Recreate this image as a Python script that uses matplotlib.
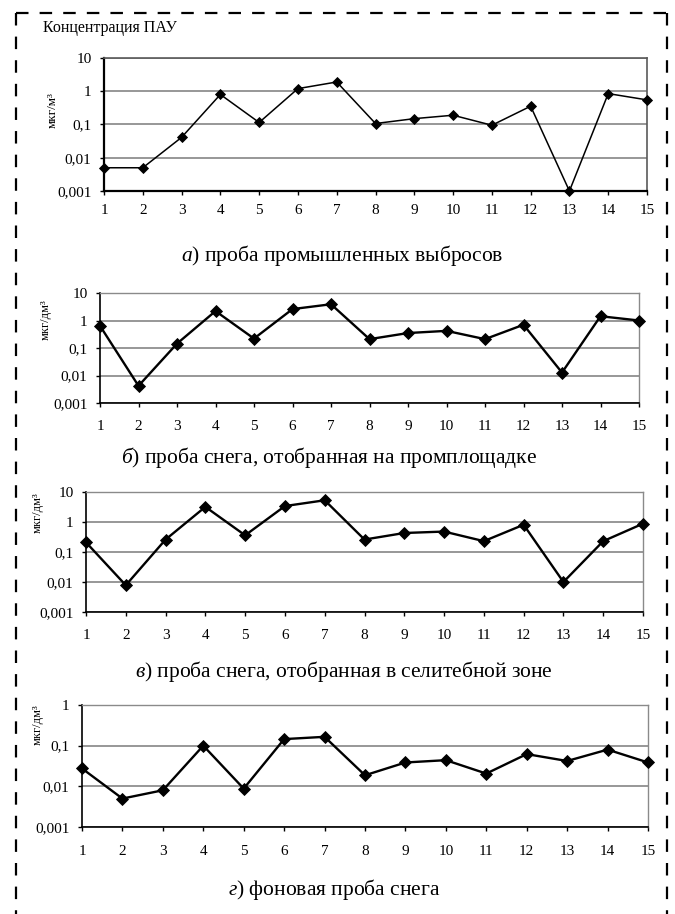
import matplotlib
matplotlib.use('Agg')
import matplotlib.pyplot as plt
from matplotlib.lines import Line2D
from matplotlib.ticker import FixedLocator, FixedFormatter, NullLocator

plt.rcParams['font.family'] = ['Liberation Serif', 'DejaVu Serif']
plt.rcParams['mathtext.fontset'] = 'custom'
plt.rcParams['mathtext.rm'] = 'Liberation Serif'
plt.rcParams['mathtext.it'] = 'Liberation Serif:italic'
plt.rcParams['lines.scale_dashes'] = False

# ---- data ----
samples = list(range(1, 16))
industrial = [0.005, 0.005, 0.041, 0.8, 0.115, 1.2, 1.9, 0.107, 0.15, 0.19,
              0.095, 0.355, 0.001, 0.85, 0.55]
snow_site = [0.64, 0.0042, 0.144, 2.2, 0.22, 2.6, 3.9, 0.21, 0.35, 0.42,
             0.21, 0.7, 0.0128, 1.43, 1.0]
snow_residential = [0.21, 0.0078, 0.26, 3.2, 0.36, 3.4, 5.3, 0.26, 0.43, 0.48,
                    0.23, 0.81, 0.01, 0.23, 0.88]
snow_background = [0.0275, 0.005, 0.008, 0.1, 0.0088, 0.145, 0.165, 0.0187,
                   0.0386, 0.044, 0.0206, 0.062, 0.042, 0.08, 0.0386]

ytick_vals = [0.001, 0.01, 0.1, 1, 10]
ytick_labels = ['0,001', '0,01', '0,1', '1', '10']

title = 'Концентрация ПАУ'
units = ['мкг/м³', 'мкг/дм³', 'мкг/дм³', 'мкг/дм³']
caption_letters = ['а', 'б', 'в', 'г']
caption_texts = ['проба промышленных выбросов',
                 'проба снега, отобранная на промплощадке',
                 'проба снега, отобранная в селитебной зоне',
                 'фоновая проба снега']

W, H = 675, 914
fig = plt.figure(figsize=(W / 100, H / 100), dpi=100)


def fx(x):
    return x / W


def fy(y):
    return 1 - y / H


# axes boxes in pixels: left, right, top, bottom
boxes = [(104, 647, 58, 191), (100, 639, 293, 403), (86, 643, 492, 612), (82, 648, 705, 827)]
series = [industrial, snow_site, snow_residential, snow_background]
ymaxs = [10, 10, 10, 1]
marker_sizes = [4.8, 6.6, 6.6, 6.6]
line_widths = [1.1, 1.7, 1.7, 1.7]
xlabel_pads = [6, 9, 9, 10]
ylabel_pos = [(53, 110), (46, 320), (38, 513), (38, 725)]
ylabel_sizes = [9.5, 9, 9, 9]
caption_pos = [(342, 255), (329, 457), (344, 672), (334, 889)]

for i, (l, r, t, b) in enumerate(boxes):
    ax = fig.add_axes([fx(l), fy(b), (r - l) / W, (b - t) / H])
    ax.set_yscale('log')
    ax.set_ylim(0.001, ymaxs[i])
    ax.set_xlim(1, 15)
    ax.plot(samples, series[i], color='black', lw=line_widths[i], marker='D',
            ms=marker_sizes[i], mfc='black', mec='black', mew=0.6, clip_on=False, zorder=5)
    vals = [v for v in ytick_vals if v <= ymaxs[i]]
    labs = [lab for v, lab in zip(ytick_vals, ytick_labels) if v <= ymaxs[i]]
    ax.yaxis.set_major_locator(FixedLocator(vals))
    ax.yaxis.set_major_formatter(FixedFormatter(labs))
    ax.yaxis.set_minor_locator(NullLocator())
    ax.set_xticks(samples)
    ax.set_xticklabels([str(s) for s in samples])
    ax.yaxis.grid(True, color='#7a7a7a', lw=1.1)
    ax.set_axisbelow(True)
    for side in ['top', 'right']:
        ax.spines[side].set_color('#5a5a5a' if i == 0 else '#8a8a8a')
        ax.spines[side].set_linewidth(1.2 if i == 0 else 1.0)
    for side in ['left', 'bottom']:
        ax.spines[side].set_color('black')
        ax.spines[side].set_linewidth(1.6 if i == 0 else 1.2)
    ax.tick_params(axis='x', direction='out', length=3, width=1, labelsize=11,
                   pad=xlabel_pads[i])
    ax.tick_params(axis='y', direction='out', length=3, width=1, labelsize=11, pad=6)
    ax.tick_params(axis='y', which='minor', length=0)

    ux, uy = ylabel_pos[i]
    fig.text(fx(ux), fy(uy), units[i], rotation=90, ha='center', va='center',
             fontsize=ylabel_sizes[i])

    cx, cy = caption_pos[i]
    fig.text(fx(cx), fy(cy), r'$\mathit{' + caption_letters[i] + '}$) ' + caption_texts[i],
             ha='center', va='center', fontsize=15.5)

fig.text(fx(43), fy(28), title, ha='left', va='center', fontsize=11.5)

# dashed frame (left, top, right)
frame_kw = dict(color='black', lw=1.6, linestyle=(0, (9, 8)), transform=fig.transFigure)
fig.add_artist(Line2D([fx(16), fx(16)], [fy(13), fy(H + 5)], **frame_kw))
fig.add_artist(Line2D([fx(16), fx(667)], [fy(13), fy(13)], **frame_kw))
fig.add_artist(Line2D([fx(667), fx(667)], [fy(13), fy(H + 5)], **frame_kw))

fig.savefig('out.png', dpi=100)
